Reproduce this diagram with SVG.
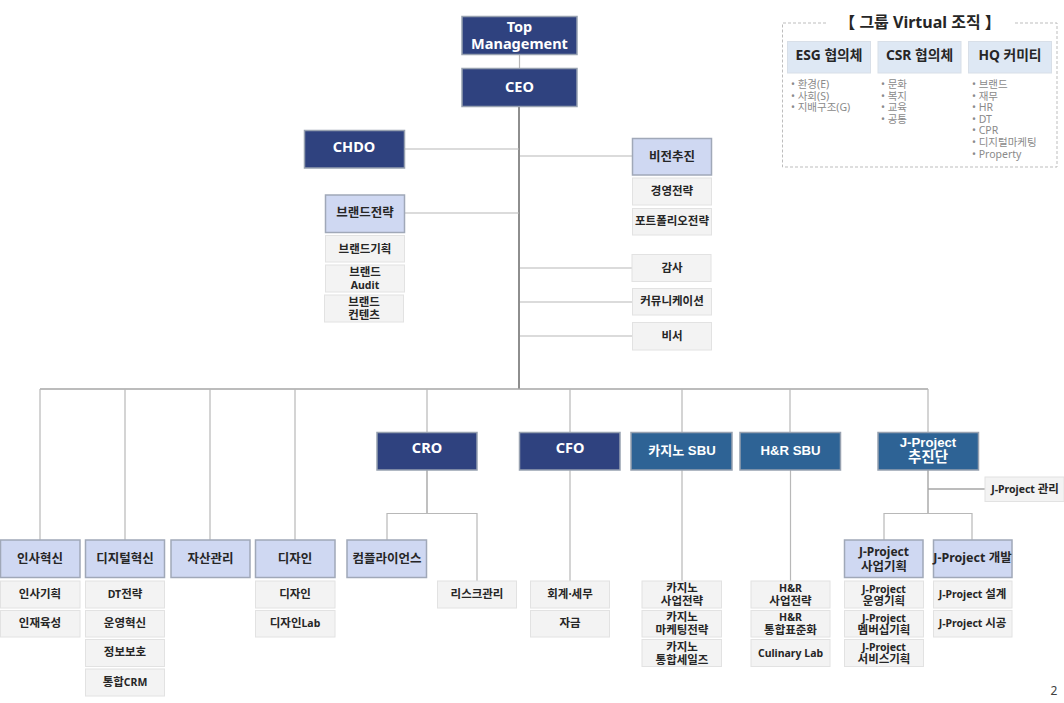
<svg xmlns="http://www.w3.org/2000/svg" width="1064" height="703" viewBox="0 0 1064 703">
<style>
text{font-family:"Noto Sans","Noto Sans CJK KR",sans-serif;text-anchor:middle;font-weight:700}
.ar{font-family:"Liberation Sans","Noto Sans CJK KR",sans-serif;font-size:13.2px}
.d rect{fill:#2f427f;stroke:#97a1b0;stroke-width:1.5}
.s rect{fill:#2e6395;stroke:#97a1b0;stroke-width:1.5}
.d text,.s text{fill:#fff;font-size:14.5px}
.s text.ar{font-size:13.200px}
.s .k{font-size:14.500px}
.l rect{fill:#cfd8f2;stroke:#a0a8b8;stroke-width:1.5}
.l text{fill:#262626;font-size:12.5px}
.g rect{fill:#f3f3f3;stroke:#e2e2e2;stroke-width:1}
.g text{fill:#262626;font-size:10.5px}
.g .k,.g text.k{font-size:11.5px}
.v rect{fill:#dee8f4;stroke:#d8dfe8;stroke-width:1}
.v text{fill:#262626;font-size:13.8px}
.i text{fill:#8a8a8a;font-size:10.5px;font-weight:400;text-anchor:start}
#connectors path{fill:none;stroke:#b8b8b8;stroke-width:1.2}
#connectors .t{stroke:#8e8e8e;stroke-width:2}
#connectors .m{stroke:#a6a6a6;stroke-width:1.4}
</style>
<rect width="1064" height="703" fill="#fff"/>
<g id="connectors">
<path d="M519.5 54V68"/>
<path class="t" d="M519 106V389"/>
<path d="M405 149H519M405 213H519"/>
<path d="M520 156H632M520 268H632M520 302H632M520 336H632"/>
<path class="m" d="M40 389H928"/>
<path d="M40 389V540M125 389V540M210 389V540M295 389V540M427 389V432M570 389V432M682 389V432M790 389V432M928 389V432"/>
<path class="m" d="M427 470V513.5"/>
<path d="M387 540V513.5H477V581"/>
<path d="M570 470V581M682 470V581M790.500 470V581"/>
<path class="m" d="M928 470V513.500M928 489H985"/>
<path d="M884 540V513.500H972V540"/>
</g>
<g id="top-management" class="d"><rect x="462" y="16.500" width="115" height="38"/><text x="519.500" y="31.500">Top</text><text x="519.500" y="49">Management</text></g>
<g id="ceo" class="d"><rect x="462" y="68.500" width="115" height="38"/><text x="519.500" y="92">CEO</text></g>
<g id="chdo" class="d"><rect x="304.500" y="130.500" width="100" height="37.500"/><text x="354" y="152">CHDO</text></g>
<g id="vision" class="l"><rect x="632.500" y="138.500" width="79" height="36.500"/><text x="672" y="160.500">비전추진</text></g>
<g id="mgmt-strategy" class="g"><rect x="632.500" y="178" width="79" height="27"/><text class="k" x="672" y="195">경영전략</text></g>
<g id="portfolio" class="g"><rect x="632.500" y="208.500" width="79" height="26.500"/><text class="k" x="672" y="225">포트폴리오전략</text></g>
<g id="audit" class="g"><rect x="632" y="254.500" width="79" height="27"/><text class="k" x="672" y="271.500">감사</text></g>
<g id="comm" class="g"><rect x="632.500" y="288.500" width="79" height="26.500"/><text class="k" x="672" y="305">커뮤니케이션</text></g>
<g id="secretary" class="g"><rect x="632.500" y="322.500" width="79" height="27.500"/><text class="k" x="672" y="340">비서</text></g>
<g id="brand-strategy" class="l"><rect x="325.500" y="195" width="79" height="37.500"/><text x="365" y="217">브랜드전략</text></g>
<g id="brand-plan" class="g"><rect x="325.500" y="235.500" width="79" height="26.500"/><text class="k" x="365" y="252.500">브랜드기획</text></g>
<g id="brand-audit" class="g"><rect x="325.500" y="265" width="79" height="27"/><text x="365"><tspan class="k" x="365" y="276">브랜드</tspan><tspan x="365" y="289">Audit</tspan></text></g>
<g id="brand-content" class="g"><rect x="324.500" y="295" width="79" height="27"/><text class="k" x="364"><tspan x="364" y="306">브랜드</tspan><tspan x="364" y="319">컨텐츠</tspan></text></g>

<g id="virtual">
<path d="M826 23H782.500V167H1057V23H1014" fill="none" stroke="#bdbdbd" stroke-width="1" stroke-dasharray="3 2"/>
<text x="920" y="28" font-size="16" fill="#262626">【 그룹 Virtual 조직 】</text>
</g>
<g id="esg"><g class="v"><rect x="787.500" y="41.500" width="83" height="31.500"/><text x="829" y="60">ESG 협의체</text></g>
<g class="i"><text><tspan x="791" y="88">• 환경(E)</tspan><tspan x="791" y="99.500">• 사회(S)</tspan><tspan x="791" y="111">• 지배구조(G)</tspan></text></g></g>
<g id="csr"><g class="v"><rect x="878" y="41.500" width="83" height="31.500"/><text x="919.500" y="60">CSR 협의체</text></g>
<g class="i"><text><tspan x="881" y="88">• 문화</tspan><tspan x="881" y="99.500">• 복지</tspan><tspan x="881" y="111">• 교육</tspan><tspan x="881" y="122.500">• 공통</tspan></text></g></g>
<g id="hq"><g class="v"><rect x="968.500" y="41.500" width="83" height="31.500"/><text x="1010" y="60">HQ 커미티</text></g>
<g class="i"><text><tspan x="972" y="88">• 브랜드</tspan><tspan x="972" y="99.500">• 재무</tspan><tspan x="972" y="111">• HR</tspan><tspan x="972" y="122.500">• DT</tspan><tspan x="972" y="134">• CPR</tspan><tspan x="972" y="145.500">• 디지털마케팅</tspan><tspan x="972" y="157.500">• Property</tspan></text></g></g>

<g id="cro" class="d"><rect x="377" y="432.500" width="100" height="37.500"/><text x="427" y="453">CRO</text></g>
<g id="cfo" class="d"><rect x="519.500" y="432.500" width="100.500" height="37.500"/><text x="570" y="453">CFO</text></g>
<g id="casino" class="s"><rect x="631" y="432.500" width="101" height="37.500"/><text x="682" y="454.500" class="ar"><tspan class="k" style="font-size:13px">카지노</tspan> SBU</text></g>
<g id="hr-sbu" class="s"><rect x="740" y="432.500" width="100.500" height="37.500"/><text x="790.500" y="454.500" class="ar">H&amp;R SBU</text></g>
<g id="jproject" class="s"><rect x="878" y="432.500" width="100.500" height="37.500"/><text x="928" class="ar"><tspan x="928" y="447">J-Project</tspan><tspan class="k" x="928" y="461.500">추진단</tspan></text></g>
<g id="jp-mgmt" class="g"><rect x="985" y="477" width="79" height="24.500"/><text x="1025" y="493">J-Project <tspan class="k">관리</tspan></text></g>

<g id="hr-inno" class="l"><rect x="0.500" y="540" width="79.500" height="37.500"/><text x="40" y="562.500">인사혁신</text></g>
<g class="g" id="hr1"><rect x="0.500" y="581" width="79.500" height="27"/><text class="k" x="40" y="598">인사기획</text></g>
<g class="g" id="hr2"><rect x="0.500" y="610.500" width="79.500" height="26.500"/><text class="k" x="40" y="627">인재육성</text></g>
<g id="digital" class="l"><rect x="85.500" y="540" width="79" height="37.500"/><text x="125" y="562.500">디지털혁신</text></g>
<g class="g" id="dg1"><rect x="85.500" y="581" width="79" height="27"/><text x="125" y="598">DT<tspan class="k">전략</tspan></text></g>
<g class="g" id="dg2"><rect x="85.500" y="610.500" width="79" height="26.500"/><text class="k" x="125" y="627">운영혁신</text></g>
<g class="g" id="dg3"><rect x="85.500" y="639.500" width="79" height="27"/><text class="k" x="125" y="656">정보보호</text></g>
<g class="g" id="dg4"><rect x="85.500" y="669" width="79" height="27"/><text x="125" y="686"><tspan class="k">통합</tspan>CRM</text></g>
<g id="asset" class="l"><rect x="171" y="540" width="79" height="37.500"/><text x="210.500" y="562.500">자산관리</text></g>
<g id="design" class="l"><rect x="255.500" y="540" width="79.500" height="37.500"/><text x="295" y="562.500">디자인</text></g>
<g class="g" id="ds1"><rect x="255.500" y="581" width="79.500" height="27"/><text class="k" x="295" y="598">디자인</text></g>
<g class="g" id="ds2"><rect x="255.500" y="610.500" width="79.500" height="26.500"/><text x="295" y="627"><tspan class="k">디자인</tspan>Lab</text></g>
<g id="compliance" class="l"><rect x="347" y="540" width="79.500" height="37.500"/><text x="387" y="562.500">컴플라이언스</text></g>
<g class="g" id="risk"><rect x="437.500" y="581" width="79" height="27"/><text class="k" x="477" y="598">리스크관리</text></g>
<g class="g" id="tax"><rect x="530.500" y="581" width="79" height="27"/><text class="k" x="570" y="598">회계·세무</text></g>
<g class="g" id="fund"><rect x="530.500" y="610.500" width="79" height="26.500"/><text class="k" x="570" y="627">자금</text></g>
<g class="g" id="c1"><rect x="642" y="581" width="79.500" height="27"/><text class="k" x="682"><tspan x="682" y="592">카지노</tspan><tspan x="682" y="604.500">사업전략</tspan></text></g>
<g class="g" id="c2"><rect x="642" y="610.500" width="79.500" height="26.500"/><text class="k" x="682"><tspan x="682" y="621">카지노</tspan><tspan x="682" y="634">마케팅전략</tspan></text></g>
<g class="g" id="c3"><rect x="642" y="639.500" width="79.500" height="27"/><text class="k" x="682"><tspan x="682" y="651">카지노</tspan><tspan x="682" y="664">통합세일즈</tspan></text></g>
<g class="g" id="h1"><rect x="751" y="581" width="79" height="27"/><text x="790.500"><tspan x="790.500" y="592">H&amp;R</tspan><tspan class="k" x="790.500" y="604.500">사업전략</tspan></text></g>
<g class="g" id="h2"><rect x="751" y="610.500" width="79" height="26.500"/><text x="790.500"><tspan x="790.500" y="621">H&amp;R</tspan><tspan class="k" x="790.500" y="634">통합표준화</tspan></text></g>
<g class="g" id="h3"><rect x="751" y="639.500" width="79" height="27"/><text x="790.500" y="657">Culinary Lab</text></g>
<g id="jp-plan" class="l"><rect x="844.500" y="540" width="78.500" height="37.500"/><text x="884"><tspan x="884" y="555.500" font-size="12">J-Project</tspan><tspan x="884" y="570.500">사업기획</tspan></text></g>
<g class="g" id="j1"><rect x="844.500" y="581" width="79" height="27"/><text x="884"><tspan x="884" y="592.500">J-Project</tspan><tspan class="k" x="884" y="604.500">운영기획</tspan></text></g>
<g class="g" id="j2"><rect x="844.500" y="610.500" width="79" height="26.500"/><text x="884"><tspan x="884" y="621.500">J-Project</tspan><tspan class="k" x="884" y="634">멤버십기획</tspan></text></g>
<g class="g" id="j3"><rect x="844.500" y="639.500" width="79" height="27"/><text x="884"><tspan x="884" y="651">J-Project</tspan><tspan class="k" x="884" y="663">서비스기획</tspan></text></g>
<g id="jp-dev" class="l"><rect x="933.500" y="540" width="78.500" height="37.500"/><text x="972.500" y="562" font-size="12">J-Project 개발</text></g>
<g class="g" id="j4"><rect x="933.500" y="581" width="78.500" height="27"/><text x="972.500" y="598">J-Project <tspan class="k">설계</tspan></text></g>
<g class="g" id="j5"><rect x="933.500" y="610.500" width="78.500" height="26.500"/><text x="972.500" y="627">J-Project <tspan class="k">시공</tspan></text></g>
<text x="1054" y="695" font-size="12" fill="#404040" style="font-weight:400">2</text>
</svg>
